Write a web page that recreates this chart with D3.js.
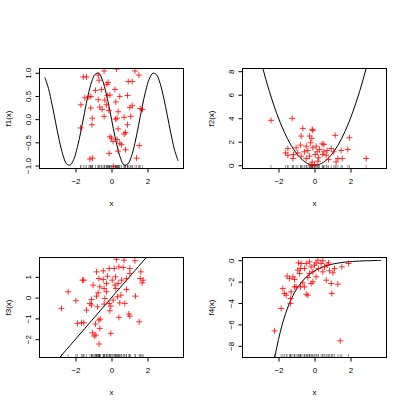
<!DOCTYPE html>
<html>
<head>
<meta charset="utf-8">
<script src="https://cdn.jsdelivr.net/npm/d3@7"></script>
<style>
  body { margin: 0; background: #fff; }
  svg text { font-family: "Liberation Sans", Arial, sans-serif; font-size: 8px; fill: #000; }
</style>
</head>
<body>
<svg id="chart" width="407" height="407"></svg>
<script>
// grid the true curves were read at
var xGrid = [-3.7, -3.5, -3.3, -3.1, -2.9, -2.7, -2.5, -2.3, -2.1, -1.9, -1.7, -1.5, -1.3, -1.1, -0.9, -0.7, -0.5, -0.3, -0.1,
             0.1, 0.3, 0.5, 0.7, 0.9, 1.1, 1.3, 1.5, 1.7, 1.9, 2.1, 2.3, 2.5, 2.7, 2.9, 3.1, 3.3, 3.5, 3.7];

var f1Curve = [0.90, 0.66, 0.31, -0.08, -0.46, -0.77, -0.96, -0.99, -0.87, -0.61, -0.26, 0.14, 0.52, 0.81, 0.97, 0.99, 0.84, 0.56, 0.20,
               -0.20, -0.56, -0.84, -0.99, -0.97, -0.81, -0.52, -0.14, 0.26, 0.61, 0.87, 0.99, 0.96, 0.77, 0.46, 0.08, -0.31, -0.66, -0.90];
var f2Curve = [13.69, 12.25, 10.89, 9.61, 8.41, 7.29, 6.25, 5.29, 4.41, 3.61, 2.89, 2.25, 1.69, 1.21, 0.81, 0.49, 0.25, 0.09, 0.01,
               0.01, 0.09, 0.25, 0.49, 0.81, 1.21, 1.69, 2.25, 2.89, 3.61, 4.41, 5.29, 6.25, 7.29, 8.41, 9.61, 10.89, 12.25, 13.69];
var f3Curve = [-3.7, -3.5, -3.3, -3.1, -2.9, -2.7, -2.5, -2.3, -2.1, -1.9, -1.7, -1.5, -1.3, -1.1, -0.9, -0.7, -0.5, -0.3, -0.1,
               0.1, 0.3, 0.5, 0.7, 0.9, 1.1, 1.3, 1.5, 1.7, 1.9, 2.1, 2.3, 2.5, 2.7, 2.9, 3.1, 3.3, 3.5, 3.7];
var f4Curve = [-40.4, -33.1, -27.1, -22.2, -18.2, -14.9, -12.18, -9.97, -8.17, -6.69, -5.47, -4.48, -3.67, -3.00, -2.46, -2.01, -1.65, -1.35, -1.11,
               -0.905, -0.741, -0.607, -0.497, -0.407, -0.333, -0.273, -0.223, -0.183, -0.150, -0.122, -0.100, -0.082, -0.067, -0.055, -0.045, -0.037, -0.030, -0.025];

// partial residuals [x, f(x)]
var f1Points = [[-1.57,0.91],[-1.39,0.91],[-0.74,0.95],[-0.41,1.04],[0.28,1.08],[1.30,1.04],[1.52,0.95],[0.93,0.81],[1.15,0.81],
  [-0.19,0.79],[-0.26,0.75],[-0.69,0.84],[-0.89,0.62],[-0.56,0.64],[0.19,0.64],[-0.09,0.52],[-0.22,0.51],[0.46,0.49],[0.89,0.51],
  [-1.48,0.46],[-1.26,0.48],[-1.15,0.49],[-0.74,0.42],[-0.37,0.41],[0.24,0.37],[-1.70,0.31],[-1.15,0.24],[-0.65,0.26],[-0.52,0.21],
  [-0.28,0.31],[-0.15,0.19],[0.37,0.16],[1.02,0.25],[1.15,0.29],[1.59,0.23],[1.72,0.21],[-0.41,0.06],[0.31,0.02],[0.22,0.00],
  [0.70,0.04],[1.07,0.06],[-1.07,0.02],[-1.09,-0.12],[-1.72,-0.19],[0.37,-0.21],[0.89,-0.12],[0.78,-0.29],[0.70,-0.32],[-0.09,-0.38],
  [0.00,-0.41],[0.31,-0.44],[0.46,-0.52],[0.56,-0.55],[0.09,-0.48],[1.54,-0.57],[0.37,-0.69],[0.78,-0.66],[-0.13,-0.74],[-1.20,-0.86],
  [-1.06,-0.84],[1.39,-0.84],[0.10,-1.02]];
var f2Points = [[-2.41,3.82],[-1.24,3.99],[-0.65,3.13],[-0.13,3.05],[-0.09,2.96],[1.15,2.54],[1.94,2.34],[-0.74,2.48],[-0.28,2.48],
  [-0.15,2.28],[0.43,1.82],[0.52,1.77],[-0.78,1.71],[-1.02,1.48],[-1.48,1.42],[-1.61,1.05],[-1.17,0.91],[-0.93,1.05],[-0.56,1.14],
  [-0.37,1.25],[-0.09,1.48],[0.09,1.62],[0.15,1.14],[0.04,0.91],[-0.28,0.77],[-0.46,0.57],[0.22,0.63],[0.70,1.25],[0.93,1.42],
  [1.07,1.14],[1.48,1.25],[1.85,1.34],[1.30,0.57],[1.54,0.57],[1.20,0.28],[0.78,0.48],[0.46,0.91],[0.19,0.34],[-0.13,0.26],
  [2.87,0.57],[-1.20,0.57],[-0.74,0.77],[-1.48,0.85],[0.52,1.14],[0.65,0.85],[0.00,0.06],[-0.19,0.00],[0.28,1.34],[-0.46,1.62],[-0.22,1.91]];
var f3Points = [[-2.78,-0.52],[-2.41,0.28],[-1.98,-0.15],[-1.61,0.84],[-1.54,0.84],[-1.89,-1.24],[-1.54,-1.21],[-1.39,-0.60],[-1.20,-0.28],
  [-1.11,-0.09],[-1.06,-1.69],[-0.96,-1.85],[-0.87,-1.80],[-0.65,-1.48],[-0.69,-2.23],[-0.89,-1.27],[-0.63,-1.03],[-0.78,-0.44],
  [-0.83,0.07],[-0.74,0.23],[-1.02,0.60],[-0.83,1.24],[-0.70,0.92],[-0.65,0.52],[-0.46,1.29],[-0.41,0.44],[-0.28,0.28],[-0.22,1.03],
  [-0.13,1.40],[0.15,1.40],[0.04,0.84],[0.19,0.60],[0.37,0.68],[0.24,0.44],[-0.37,-0.04],[-0.41,-0.31],[-0.13,-0.28],[-0.04,-0.41],
  [-0.09,-0.63],[0.09,-0.12],[0.33,0.04],[0.52,0.12],[0.83,0.39],[0.74,-0.28],[1.33,0.07],[0.41,-0.95],[0.96,-0.79],[1.02,-0.89],
  [1.54,-1.16],[-0.04,-1.72],[-0.70,-1.08],[0.28,1.84],[0.70,1.80],[1.02,1.40],[1.30,1.77],[1.63,1.24],[1.76,0.84],[1.70,0.71],
  [0.65,1.45],[0.41,1.48],[0.56,0.84],[0.83,0.92],[1.02,1.16],[1.59,0.92],[0.22,1.00],[-0.46,0.87],[-0.28,0.68],[-1.11,-0.36],
  [-1.67,-1.21],[0.46,-0.25]];
var f4Points = [[-2.22,-6.60],[-1.85,-4.51],[-1.76,-2.65],[-1.67,-3.11],[-1.57,-3.27],[-1.33,-4.05],[-1.30,-2.96],[-1.33,-3.58],
  [-1.52,-1.49],[-1.39,-1.71],[-1.20,-1.55],[-1.11,-1.80],[-0.93,-0.93],[-0.78,-0.78],[-0.89,-0.25],[-0.74,-0.31],[-1.02,-2.49],
  [-0.78,-2.49],[-0.56,-2.49],[-0.46,-3.18],[-0.37,-3.27],[-0.65,-2.11],[-0.37,-1.62],[-0.28,-1.24],[-0.09,-1.09],[-0.19,-0.62],
  [0.00,-0.46],[0.09,-0.25],[0.19,0.00],[0.46,-0.06],[0.70,-0.46],[0.22,-0.78],[0.46,-1.09],[0.65,-1.87],[0.93,-2.18],[1.30,-2.24],
  [0.96,-3.11],[1.43,-7.54],[0.83,-0.99],[1.11,-0.78],[1.52,-0.62],[1.89,-0.31],[-0.09,-2.02],[0.09,-1.55],[-0.56,-0.78],[-0.46,-0.31],
  [-0.28,-0.15],[0.37,-0.31],[0.78,-0.25],[-0.19,-2.18],[-1.11,-2.49],[-0.83,-1.24],[0.56,-0.62],[1.02,-1.18]];

var xTicks = [-2, 0, 2];
var f1Ticks = [-1, -0.5, 0, 0.5, 1];
var f2Ticks = [0, 2, 4, 6, 8];
var f3Ticks = [-2, -1, 0, 1];
var f4Ticks = [-8, -6, -4, -2, 0];

var svg = d3.select("#chart");
var boxW = 144, boxH = 100;

var panels = [
  {label: "f1(x)", curve: f1Curve, pts: f1Points, ydom: [-1.064, 1.092], yticks: f1Ticks, fmt: d3.format(".1f"), left: 39.5, top: 68.5},
  {label: "f2(x)", curve: f2Curve, pts: f2Points, ydom: [-0.28, 8.23], yticks: f2Ticks, fmt: d3.format("d"), left: 242.5, top: 68.5},
  {label: "f3(x)", curve: f3Curve, pts: f3Points, ydom: [-2.88, 1.93], yticks: f3Ticks, fmt: d3.format("d"), left: 39.5, top: 257.5},
  {label: "f4(x)", curve: f4Curve, pts: f4Points, ydom: [-9.09, 0.25], yticks: f4Ticks, fmt: d3.format("d"), left: 242.5, top: 257.5}
];

panels.forEach(function (p, i) {
  var x = d3.scaleLinear().domain([-4, 4]).range([p.left, p.left + boxW]);
  var y = d3.scaleLinear().domain(p.ydom).range([p.top + boxH, p.top]);
  var g = svg.append("g");

  g.append("clipPath").attr("id", "clip" + i)
    .append("rect").attr("x", p.left).attr("y", p.top).attr("width", boxW).attr("height", boxH);

  // rug of the covariate
  g.append("g").attr("clip-path", "url(#clip" + i + ")")
    .selectAll("line").data(p.pts).enter().append("line")
    .attr("x1", function (d) { return x(d[0]); })
    .attr("x2", function (d) { return x(d[0]); })
    .attr("y1", p.top + boxH)
    .attr("y2", p.top + boxH - 3.5)
    .attr("stroke", "#000").attr("stroke-opacity", 0.5).attr("stroke-width", 0.8);

  var line = d3.line()
    .x(function (d, j) { return x(xGrid[j]); })
    .y(function (d) { return y(d); })
    .curve(d3.curveCatmullRom);

  g.append("path").datum(p.curve)
    .attr("clip-path", "url(#clip" + i + ")")
    .attr("d", line)
    .attr("fill", "none").attr("stroke", "#000").attr("stroke-width", 1);

  g.append("g").attr("clip-path", "url(#clip" + i + ")")
    .selectAll("path").data(p.pts).enter().append("path")
    .attr("d", "M-3,0h6M0,-3v6")
    .attr("transform", function (d) { return "translate(" + x(d[0]) + "," + y(d[1]) + ")"; })
    .attr("stroke", "#ff0000").attr("stroke-opacity", 0.8).attr("stroke-width", 1).attr("fill", "none");

  g.append("rect")
    .attr("x", p.left).attr("y", p.top).attr("width", boxW).attr("height", boxH)
    .attr("fill", "none").attr("stroke", "#000").attr("stroke-width", 1);

  var xa = g.append("g").attr("transform", "translate(0," + (p.top + boxH) + ")")
    .call(d3.axisBottom(x).tickValues(xTicks).tickSize(4).tickSizeOuter(0).tickPadding(6)
      .tickFormat(d3.format("d")));
  xa.select(".domain").remove();
  xa.attr("font-size", null).attr("font-family", null);

  var ya = g.append("g").attr("transform", "translate(" + p.left + ",0)")
    .call(d3.axisLeft(y).tickValues(p.yticks).tickSize(4).tickSizeOuter(0).tickFormat(p.fmt));
  ya.select(".domain").remove();
  ya.attr("font-size", null).attr("font-family", null);
  ya.selectAll("text")
    .attr("x", 0).attr("dy", "0.35em").attr("text-anchor", "middle")
    .attr("transform", "translate(-11,0) rotate(-90)");

  g.append("text")
    .attr("x", p.left + boxW / 2).attr("y", p.top + boxH + 34.5).attr("dy", "0.35em")
    .attr("text-anchor", "middle").text("x");

  g.append("text")
    .attr("transform", "translate(" + (p.left - 31.5) + "," + (p.top + boxH / 2) + ") rotate(-90)")
    .attr("dy", "0.35em").attr("text-anchor", "middle").text(p.label);
});
</script>
</body>
</html>
